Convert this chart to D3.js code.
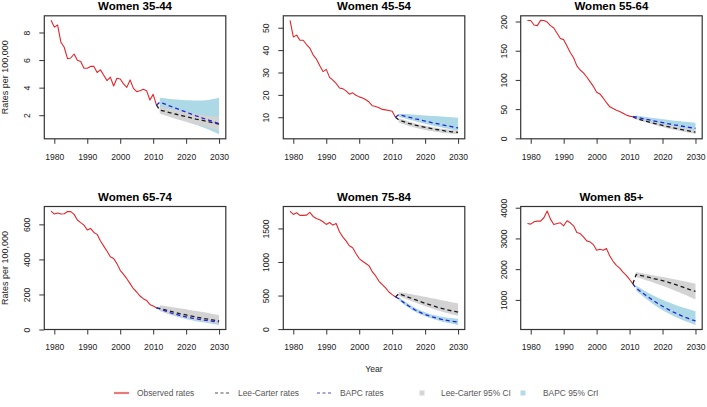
<!DOCTYPE html>
<html><head><meta charset="utf-8">
<script src="https://cdn.jsdelivr.net/npm/d3@7"></script>
<style>
body{margin:0;background:#fff}
svg{display:block}
text{font-family:"Liberation Sans",Arial,Helvetica,sans-serif}
</style>
</head><body>
<svg id="chart" width="707" height="407"></svg>
<script>
// ---------------- DATA ----------------
const panelTitles = ["Women 35-44","Women 45-54","Women 55-64","Women 65-74","Women 75-84","Women 85+"];
const observedYears = d3.range(1979, 2012);   // 1979..2011
const projYears = d3.range(2011, 2031);       // 2011..2030 (starts at last observed)
const bandYears = d3.range(2012, 2031);       // 2012..2030
const xTicks = [1980, 1990, 2000, 2010, 2020, 2030];

// Observed rates 1979-2011
const obs_35_44 = [8.88,8.39,8.54,7.29,6.93,6.10,6.15,6.44,5.98,5.90,5.41,5.41,5.54,5.54,5.10,5.29,4.90,4.51,4.76,4.12,4.68,4.63,4.27,4.02,4.56,3.95,3.71,3.78,3.88,3.78,3.10,3.51,2.73];
const obs_45_54 = [53.3,45.9,46.7,44.4,44.4,42.5,40.9,37.9,36.0,33.1,30.4,31.4,27.8,26.6,25.1,23.1,22.8,21.8,20.3,20.9,19.8,19.1,18.6,17.8,16.8,15.1,14.8,14.2,13.5,13.3,13.0,12.7,10.0];
const obs_55_64 = [201.7,201.7,194,193,202,201.7,199,193,189,180,171,169,158,147,138,124,117,112,105,97,89,79,76,69,61,54,51,48,46,43,40,38,37];
const obs_65_74 = [676,659,665,659,661,673,673,657,625,610,596,568,577,554,543,505,476,447,415,405,376,338,315,290,262,233,214,191,176,166,143,134,124];
const obs_75_84 = [1759,1709,1734,1694,1694,1699,1739,1679,1649,1629,1599,1560,1589,1550,1574,1450,1375,1315,1241,1211,1126,1051,1011,977,942,852,792,712,663,613,553,513,478];
const obs_85p   = [3487,3465,3542,3564,3564,3673,3891,3629,3455,3487,3509,3411,3575,3509,3411,3193,3160,3051,2920,2887,2800,2615,2647,2615,2669,2429,2255,2124,2036,1905,1796,1665,1524];

// Lee-Carter projected rates 2011-2030
const lc_35_44 = [2.73,2.38,2.32,2.26,2.19,2.13,2.07,2.01,1.95,1.89,1.84,1.78,1.72,1.67,1.62,1.56,1.51,1.46,1.41,1.35];
const lc_45_54 = [10.0,8.8,8.3,7.8,7.3,6.9,6.5,6.1,5.8,5.5,5.2,4.9,4.6,4.4,4.2,3.9,3.7,3.5,3.4,3.2];
const lc_55_64 = [37,34,32.4,30.8,29.3,27.8,26.3,24.9,23.5,22.1,20.8,19.5,18.3,17.1,15.9,14.8,13.7,12.6,11.5,10.5];
const lc_65_74 = [124,120,115,110,105,100,96,91,87,83,79,75,71,68,64,61,58,55,52,49];
const lc_75_84 = [478,528,510,492,474,456,438,420,402,385,369,353,338,323,309,296,284,273,263,254];
const lc_85p   = [1524,1829,1805,1780,1755,1730,1704,1678,1652,1626,1600,1565,1530,1494,1458,1421,1384,1346,1308,1279,1251].slice(0,20);

// BAPC projected rates 2011-2030
const bapc_35_44 = [2.73,2.95,2.86,2.77,2.67,2.58,2.49,2.40,2.31,2.22,2.13,2.05,1.96,1.88,1.79,1.71,1.63,1.55,1.47,1.39];
const bapc_45_54 = [10.0,11.1,10.8,10.4,10.0,9.7,9.3,9.0,8.6,8.3,8.0,7.6,7.3,7.0,6.7,6.4,6.1,5.8,5.5,5.2];
const bapc_55_64 = [37,36.5,35.2,33.9,32.7,31.5,30.3,29.1,28.0,26.9,25.8,24.7,23.7,22.7,21.7,20.7,19.8,18.9,18.0,17.1];
const bapc_65_74 = [124,117,110,103,97,91,86,81,76,72,68,64,61,58,55,52,50,47,45,43];
const bapc_75_84 = [478,455,415,378,344,313,285,260,238,218,200,184,170,157,146,136,127,119,112,105];
const bapc_85p   = [1524,1382,1300,1220,1142,1067,994,924,857,793,732,674,619,567,518,472,429,389,352,318];

// Lee-Carter 95% CI 2012-2030
const lcLo_35_44 = [2.12,2.04,1.96,1.88,1.80,1.73,1.66,1.59,1.52,1.45,1.39,1.33,1.27,1.21,1.15,1.09,1.03,0.97,0.90];
const lcHi_35_44 = [2.62,2.57,2.52,2.47,2.42,2.37,2.32,2.27,2.22,2.17,2.13,2.09,2.05,2.01,1.98,1.95,1.92,1.90,1.88];
const lcLo_45_54 = [7.6,7.1,6.6,6.1,5.7,5.3,5.0,4.6,4.3,4.0,3.8,3.5,3.3,3.1,2.9,2.8,2.6,2.5,2.4];
const lcHi_45_54 = [9.6,9.1,8.6,8.1,7.6,7.2,6.8,6.5,6.2,5.9,5.6,5.4,5.1,4.9,4.7,4.5,4.3,4.2,4.1];
const lcLo_55_64 = [32.5,30.7,28.9,27.2,25.5,23.9,22.3,20.8,19.3,17.9,16.6,15.3,14.1,12.9,11.8,10.7,9.7,8.7,7.0];
const lcHi_55_64 = [35.5,34,32.5,31,29.6,28.2,26.8,25.5,24.2,23,21.8,20.7,19.7,18.7,17.8,16.9,16.1,15.3,14.6];
const lcLo_65_74 = [105,99,93,88,83,78,73,69,65,61,57,54,51,47,44,41,38,35,32];
const lcHi_65_74 = [138,136,133,130,127,124,121,118,115,112,109,106,103,100,97,93,89,85,81];
const lcLo_75_84 = [495,475,455,435,415,396,377,359,341,324,307,291,276,262,248,235,223,212,200];
const lcHi_75_84 = [553,545,537,528,519,510,501,491,481,471,461,451,441,431,421,411,401,391,380];
const lcLo_85p   = [1742,1710,1677,1643,1608,1572,1535,1497,1458,1418,1377,1335,1292,1248,1203,1157,1110,1062,1013];
const lcHi_85p   = [1905,1885,1865,1845,1825,1805,1785,1765,1745,1725,1705,1684,1663,1641,1619,1596,1573,1549,1524];

// BAPC 95% CrI 2012-2030
const bLo_35_44 = [2.24,2.14,2.05,1.96,1.88,1.80,1.72,1.64,1.55,1.47,1.39,1.31,1.22,1.13,1.04,0.94,0.84,0.73,0.62];
const bHi_35_44 = [3.27,3.24,3.21,3.18,3.16,3.14,3.12,3.10,3.09,3.08,3.07,3.06,3.06,3.07,3.09,3.12,3.16,3.21,3.27];
const bLo_45_54 = [10.2,9.8,9.4,9.0,8.6,8.2,7.8,7.4,7.1,6.7,6.4,6.0,5.7,5.4,5.1,4.8,4.5,4.2,4.0];
const bHi_45_54 = [11.6,11.5,11.4,11.3,11.2,11.1,11.0,10.9,10.8,10.7,10.6,10.5,10.4,10.3,10.2,10.1,10.0,9.9,9.8];
const bLo_55_64 = [34,32.5,31,29.5,28.2,26.9,25.6,24.4,23.2,22.0,20.9,19.8,18.8,17.8,16.8,15.9,15.0,14.1,13.3];
const bHi_55_64 = [39,38.2,37.4,36.6,35.8,35.0,34.2,33.5,32.8,32.1,31.4,30.7,30.1,29.5,28.9,28.3,27.8,27.3,26.8];
const bLo_65_74 = [108,100,93,86,80,74,69,64,59,55,51,47,44,41,38,35,32,29,26];
const bHi_65_74 = [125,118,111,105,99,93,88,83,79,75,71,68,65,62,60,58,56,54,52];
const bLo_75_84 = [430,390,352,317,286,258,233,211,191,173,157,142,128,115,103,92,82,72,62];
const bHi_75_84 = [480,442,406,373,343,316,292,270,251,234,219,206,195,185,177,170,164,159,155];
const bLo_85p   = [1306,1212,1122,1036,954,876,802,732,666,604,546,491,440,392,347,305,266,225,185];
const bHi_85p   = [1469,1400,1334,1271,1211,1154,1100,1049,1001,956,913,872,833,796,761,727,694,662,631];

const yTicks = [[2,4,6,8],[10,20,30,40,50],[0,50,100,150,200],[0,200,400,600],[0,500,1000,1500],[1000,2000,3000,4000]];

const legendLabels = ["Observed rates","Lee-Carter rates","BAPC rates","Lee-Carter 95% CI","BAPC 95% CrI"];

// ---------------- BUILD ----------------
const panels = [
  {obs:obs_35_44, lc:lc_35_44, bapc:bapc_35_44, lcLo:lcLo_35_44, lcHi:lcHi_35_44, bLo:bLo_35_44, bHi:bHi_35_44},
  {obs:obs_45_54, lc:lc_45_54, bapc:bapc_45_54, lcLo:lcLo_45_54, lcHi:lcHi_45_54, bLo:bLo_45_54, bHi:bHi_45_54},
  {obs:obs_55_64, lc:lc_55_64, bapc:bapc_55_64, lcLo:lcLo_55_64, lcHi:lcHi_55_64, bLo:bLo_55_64, bHi:bHi_55_64},
  {obs:obs_65_74, lc:lc_65_74, bapc:bapc_65_74, lcLo:lcLo_65_74, lcHi:lcHi_65_74, bLo:bLo_65_74, bHi:bHi_65_74},
  {obs:obs_75_84, lc:lc_75_84, bapc:bapc_75_84, lcLo:lcLo_75_84, lcHi:lcHi_75_84, bLo:bLo_75_84, bHi:bHi_75_84},
  {obs:obs_85p,   lc:lc_85p,   bapc:bapc_85p,   lcLo:lcLo_85p,   lcHi:lcHi_85p,   bLo:bLo_85p,   bHi:bHi_85p}
];

const svg = d3.select("#chart");
const colLeft = [44.3, 283.3, 520.7];
const colWidth = 181.5;
const rowTop = [15.8, 206.5];
const rowHeight = 123;

const COL = {red:"#e3262b", lc:"#1a1a1a", bapc:"#2424d6", lcBand:"#d3d3d3", bBand:"#add8e6", axis:"#333"};

panels.forEach((p, i) => {
  const c = i % 3, r = Math.floor(i / 3);
  const left = colLeft[c], top = rowTop[r];
  const xr = [1979, 2030], xpad = (xr[1]-xr[0])*0.04;
  const x = d3.scaleLinear().domain([xr[0]-xpad, xr[1]+xpad]).range([left, left+colWidth]);
  const all = [].concat(p.obs, p.lc, p.bapc, p.lcLo, p.lcHi, p.bLo, p.bHi);
  const [mn, mx] = d3.extent(all);
  const ypad = (mx-mn)*0.04;
  const y = d3.scaleLinear().domain([mn-ypad, mx+ypad]).range([top+rowHeight, top]);
  const g = svg.append("g");

  const area = (lo, hi) => d3.area().x((d,k)=>x(bandYears[k])).y0((d,k)=>y(lo[k])).y1((d,k)=>y(hi[k]))(lo);
  g.append("path").attr("d", area(p.bLo, p.bHi)).attr("fill", COL.bBand);
  g.append("path").attr("d", area(p.lcLo, p.lcHi)).attr("fill", COL.lcBand);

  const line = (yrs) => d3.line().x((d,k)=>x(yrs[k])).y(d=>y(d));
  g.append("path").attr("d", line(observedYears)(p.obs)).attr("fill","none").attr("stroke",COL.red).attr("stroke-width",1.1).attr("stroke-linejoin","round");
  g.append("path").attr("d", line(projYears)(p.lc)).attr("fill","none").attr("stroke",COL.lc).attr("stroke-width",1.3).attr("stroke-dasharray","4,3");
  g.append("path").attr("d", line(projYears)(p.bapc)).attr("fill","none").attr("stroke",COL.bapc).attr("stroke-width",1.3).attr("stroke-dasharray","4,3");

  // box
  g.append("rect").attr("x",left).attr("y",top).attr("width",colWidth).attr("height",rowHeight)
    .attr("fill","none").attr("stroke",COL.axis).attr("stroke-width",1.2);

  // x axis
  const ax = g.append("g").attr("transform",`translate(0,${top+rowHeight})`)
    .call(d3.axisBottom(x).tickValues(xTicks).tickFormat(d3.format("d")).tickSize(5).tickPadding(9.7));
  ax.select(".domain").remove();
  ax.selectAll("line").attr("stroke",COL.axis);
  ax.selectAll("text").attr("font-size","8.6px").attr("fill","#222").attr("font-family",null);

  // y axis (rotated labels like base R)
  const yt = yTicks[i].filter(v => v >= y.domain()[0] && v <= y.domain()[1]);
  const ay = g.append("g").attr("transform",`translate(${left},0)`)
    .call(d3.axisLeft(y).tickValues(yt).tickFormat(d3.format("d")).tickSize(5));
  ay.select(".domain").remove();
  ay.selectAll("line").attr("stroke",COL.axis);
  ay.selectAll("text").attr("x",null).attr("dy",null).attr("text-anchor","middle")
    .attr("transform","translate(-13.9,0) rotate(-90)")
    .attr("font-size","8.6px").attr("fill","#222").attr("font-family",null);

  // title
  g.append("text").attr("x", left+colWidth/2).attr("y", r===0 ? 10 : 200.5)
    .attr("text-anchor","middle").attr("font-weight","bold").attr("font-size","11.5px").attr("fill","#000")
    .text(panelTitles[i]);

  if (c === 0) {
    g.append("text").attr("transform",`translate(8.1,${top+rowHeight/2}) rotate(-90)`)
      .attr("text-anchor","middle").attr("font-size","9px").attr("fill","#222").text("Rates per 100,000");
  }
  if (i === 4) {
    g.append("text").attr("x", left+colWidth/2).attr("y", 372)
      .attr("text-anchor","middle").attr("font-size","8.6px").attr("fill","#222").text("Year");
  }
});

// ---------------- LEGEND ----------------
const lg = svg.append("g");
const ly = 393;
const items = [
  {type:"line", color:"#e87a7c", dash:null, w:2.2, x:114, tx:137},
  {type:"line", color:"#8a8a8a", dash:"3,2.5", w:1.5, x:215, tx:238},
  {type:"line", color:"#8c8cd8", dash:"3,2.5", w:1.5, x:317, tx:340},
  {type:"box", color:"#d6d6d6", x:422, tx:441},
  {type:"box", color:"#b3dbe8", x:523, tx:543}
];
items.forEach((it, k) => {
  if (it.type === "line") {
    lg.append("line").attr("x1",it.x).attr("x2",it.x+15).attr("y1",ly).attr("y2",ly)
      .attr("stroke",it.color).attr("stroke-width",it.w).attr("stroke-dasharray",it.dash);
  } else {
    lg.append("rect").attr("x",it.x-2.5).attr("y",ly-2.5).attr("width",5).attr("height",5).attr("fill",it.color);
  }
  lg.append("text").attr("x",it.tx).attr("y",ly+3).attr("font-size","8.4px").attr("fill","#555").text(legendLabels[k]);
});
</script>
</body></html>
